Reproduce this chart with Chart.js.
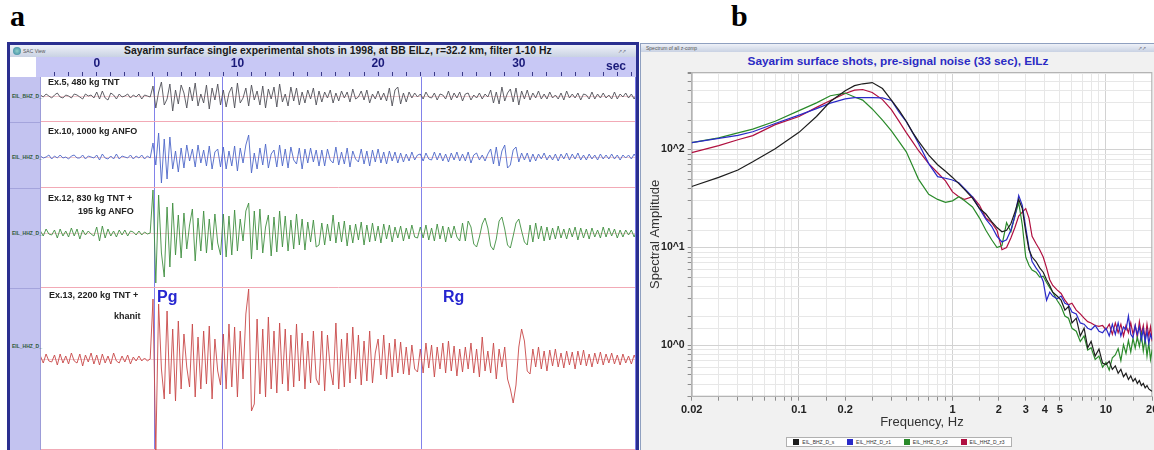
<!DOCTYPE html>
<html lang="en">
<head>
<meta charset="utf-8">
<title>Sayarim surface shots</title>
<script src="https://cdn.jsdelivr.net/npm/chart.js@4.4.1/dist/chart.umd.min.js"></script>
<style>
  html, body { margin: 0; padding: 0; }
  body {
    position: relative;
    width: 1154px;
    height: 450px;
    overflow: hidden;
    background: #ffffff;
    font-family: "Liberation Sans", Arial, sans-serif;
  }
  .abs { position: absolute; white-space: nowrap; }
  canvas { position: absolute; display: block; }
  .letter { font-family: "Liberation Serif", "Times New Roman", serif; font-weight: bold; font-size: 30px; line-height: 30px; color: #000; }
  .bar { background: linear-gradient(#eef1f8, #c9d2e3); }
  .rowLabel { font-weight: bold; font-size: 9px; line-height: 11px; color: #222; }
  .chan { font-weight: bold; font-size: 5px; line-height: 6px; color: #2f5a3a; }
  .phase { font-weight: bold; font-size: 16px; line-height: 16px; color: #2626d0; }
  .tiny { font-size: 5px; line-height: 6px; color: #555; }
  #legendBox { display: flex; justify-content: space-around; align-items: center; box-sizing: border-box; }
  #legendBox span.item { display: flex; align-items: center; font-size: 5px; color: #333; }
  #legendBox span.sw { display: inline-block; width: 6px; height: 6px; margin-right: 3px; }
</style>
</head>
<body>

<div class="abs letter" style="left:10px; top:1px;">a</div>
<div class="abs letter" style="left:731px; top:1px;">b</div>

<!-- seismogram window -->
<div class="abs" style="left:7px; top:42px; width:632px; height:420px; box-sizing:border-box; border:3px solid #2a2f8f; background:#fff;"></div>
<div class="abs bar" style="left:10px; top:45px; width:626px; height:12px;"></div>
<div class="abs" style="left:13px; top:47px; width:8px; height:8px; border-radius:4px; background:radial-gradient(#8fd0c8, #2f7f9f);"></div>
<div class="abs tiny" style="left:23px; top:48px;">SAC View</div>
<div class="abs" style="left:124px; top:45px; font-weight:bold; font-size:10.4px; line-height:12px; color:#1a1a1a;">Sayarim surface single experimental shots in 1998, at BB EILz, r=32.2 km, filter 1-10 Hz</div>
<div class="abs tiny" style="left:618px; top:48px; color:#778;">&#8599;&#8599;</div>

<div class="abs" style="left:10px; top:57px; width:26px; height:20px; background:#fff;"></div>
<div class="abs" style="left:36px; top:57px; width:600px; height:20px; background:#c8c8f5;"></div>
<canvas id="timeAxis" width="595" height="20" style="left:41px; top:57px;"></canvas>
<div class="abs" style="left:606px; top:59px; font-weight:bold; font-size:12px; line-height:14px; color:#1a1a7a;">sec</div>

<div class="abs" style="left:10px; top:77px; width:30px; height:373px; background:#c3c3f0; border-right:1px solid #9c9cd8;"></div>
<div class="abs" style="left:10px; top:122px; width:30px; height:1px; background:#a4a4dc;"></div>
<div class="abs" style="left:10px; top:188px; width:30px; height:1px; background:#a4a4dc;"></div>
<div class="abs" style="left:10px; top:288px; width:30px; height:1px; background:#a4a4dc;"></div>
<div class="abs chan" style="left:12px; top:93px;">EIL_BHZ_D_</div>
<div class="abs chan" style="left:12px; top:154px;">EIL_HHZ_D_</div>
<div class="abs chan" style="left:12px; top:230px;">EIL_HHZ_D_</div>
<div class="abs chan" style="left:12px; top:343px;">EIL_HHZ_D_</div>

<canvas id="row1" width="595" height="45" style="left:41px; top:77px;"></canvas>
<canvas id="row2" width="595" height="66" style="left:41px; top:122px;"></canvas>
<canvas id="row3" width="595" height="100" style="left:41px; top:188px;"></canvas>
<canvas id="row4" width="595" height="162" style="left:41px; top:288px;"></canvas>
<div class="abs" style="left:635px; top:77px; width:1px; height:373px; background:#7b7be8;"></div>

<div class="abs rowLabel" style="left:48px; top:77px;">Ex.5, 480 kg TNT</div>
<div class="abs rowLabel" style="left:48px; top:126px;">Ex.10, 1000 kg ANFO</div>
<div class="abs rowLabel" style="left:48px; top:193px;">Ex.12, 830 kg TNT +</div>
<div class="abs rowLabel" style="left:78px; top:206px;">195 kg ANFO</div>
<div class="abs rowLabel" style="left:49px; top:290px;">Ex.13, 2200 kg TNT +</div>
<div class="abs rowLabel" style="left:114px; top:311px;">khanit</div>
<div class="abs phase" style="left:157px; top:289px;">Pg</div>
<div class="abs phase" style="left:443px; top:289px;">Rg</div>

<!-- spectra window -->
<div class="abs" style="left:640px; top:43px; width:514px; height:407px; box-sizing:border-box; border-left:1px solid #8fa0c0; border-top:1px solid #8fa0c0; background:#f1f1f1;"></div>
<div class="abs bar" style="left:641px; top:44px; width:513px; height:8px;"></div>
<div class="abs tiny" style="left:646px; top:45px;">Spectrum of all z-comp</div>
<div class="abs tiny" style="left:1138px; top:45px; color:#778;">&#8599;&#8599;</div>
<div class="abs" style="left:700px; top:54px; width:396px; text-align:center; font-weight:bold; font-size:11.8px; line-height:15px; color:#2b2bc4;">Sayarim surface shots, pre-signal noise (33 sec), EILz</div>
<canvas id="spectra" width="530" height="398" style="left:640px; top:52px;"></canvas>
<div id="legendBox" class="abs" style="left:786px; top:437px; width:226px; height:10px; border:1px solid #b0b0b0; background:#fff;"></div>

<script>
// ---- seismograms (filter 1-10 Hz), one sample every 0.2 s from -4 s ----
const sampleStart = -4;
const sampleStep = 0.2;
const timeMin = -3.96;
const timeMax = 38.33;
const timeTickLabels = [0, 10, 20, 30];
const pickTimes = [4.07, 8.9, 23.05];   // Pg, second marker, Rg

const ex5Trace = [
  1,-1,2,0,-2, 1,3,-1,-2,1, 0,-2,2,1,-1, -3,2,0,1,-2, 4,-3,5,-2,-4, 3,1,-3,2,-1, 0,2,-2,1,-1, 2,-3,1,0,-1,
  10,-12,4,14,-9, -3,12,-15,6,-8, 11,3,-12,9,-5, 13,-10,2,-7,11, -13,8,-4,12,-9,
  6,-11,3,9,-12, 13,-7,-2,8,-10, 11,-4,5,-9,10, -12,7,-3,9,-11, 12,-6,2,-10,9, -5,8,-9,4,-7, 6,-3,8,-9,5,
  -6,4,-2,6,-7, 3,-5,5,-2,4, -6,7,-3,-1,5, -4,6,-7,2,-3, 5,-4,3,-5,8, -10,6,9,-8,3, -6,4,-2,3,-1,
  2,-3,4,-1,-2, 3,-4,2,1,-3, 5,-4,3,-2,4, -5,2,3,-4,1, -2,3,-3,2,-1,
  6,-7,4,-8,9, -5,3,7,-6,8, -9,5,-3,6,-4, 3,-2,5,-3,2,
  -3,4,-2,1,-3, 3,-4,5,-2,2, -2,3,-4,2,1, -3,4,-3,2,-2, 3,-2,1,-3,4, -3,2,-1,3,-2, 2,-3,3
];

const ex10Trace = [
  1,-1,0,2,-2, 1,-1,2,-1,0, -2,1,2,-1,-1, 2,-2,1,0,-1, 2,-3,3,-1,-2, 1,-2,3,-2,1, 0,-1,2,-2,1, -1,2,-2,1,-1,
  14,-8,24,-26,18, -22,20,-12,6,-15, 9,-11,12,-4,8, -10,12,-6,7,-9, 11,-12,5,8,-10,
  10,-12,6,-9,11, -14,9,-6,12,22, -16,4,-12,9,-8, 13,-11,3,7,-10, 12,-9,8,-11,10, -3,-7,9,-12,8, -6,9,-5,7,-9,
  7,-9,8,-3,-6, 10,-8,5,-7,9, -10,6,-2,-5,8, -7,6,-9,7,-5, 8,-6,5,-7,6, -4,5,-6,4,-5, 3,-4,5,-3,2,
  3,-4,4,-2,-3, 5,-3,4,-4,3, -5,4,-3,5,-4, 3,-4,5,-6,2, 4,-3,2,-4,3,
  8,-7,10,-9,6, 12,-11,-8,7,10, -5,4,-3,4,-5, 3,-4,3,-2,4,
  -3,2,-3,3,-4, 3,-2,4,-3,3, -2,4,-3,2,-3, 3,-2,2,-3,3, -2,2,-2,3,-2, 2,-3,2,-1,2, -2,3,-2
];

const ex12Trace = [
  2,-3,4,-1,-2, 3,-5,4,-3,2, -4,5,-3,4,-6, 3,-2,2,-1,-3, 6,-8,7,-5,4, -3,2,-4,3,-2, 3,-3,2,1,-2, 2,-2,1,-1,0,
  43,-50,38,-20,-44, 26,-34,30,-22,18, -25,20,-16,8,24, -28,15,-18,22,-20, 14,-17,19,-10,-22,
  19,-24,17,-22,23, -18,14,-8,22,30, -26,22,-17,24,-20, 6,18,-23,16,-19, 22,-14,17,-18,13, -16,19,-12,14,-17, 11,-9,13,-14,-12,
  10,-12,9,-8,18, -10,11,-9,12,-13, 8,-10,9,-7,11, -12,8,-9,10,-8, 7,-10,9,-6,8, -9,6,-5,7,-8, 5,-6,8,-4,-5,
  6,-5,8,-7,5, -8,9,-6,7,-9, 6,-5,7,-4,-8,
  10,-8,12,6,-11, -14,-4,9,15,5, -13,-17,-6,12,16, 4,-12,-15,-3,10, 14,2,-9,-12,8, -9,10,-6,7,-8,
  6,-7,5,-6,7, -5,4,-6,5,-4, 6,-7,5,-5,4, -6,5,-4,3,-5, 6,-4,5,-3,4, -5,3,-4,3,-2, 3,-4,4
];

const ex13Trace = [
  3,-4,5,-2,-3, 4,-6,5,-4,3, -5,6,-2,-4,5, -7,4,-3,6,-5, 4,-6,5,-4,3, -5,6,-2,-4,3, -3,4,-5,2,-2, 3,-2,1,-2,0,
  60,-92,55,-10,-40, 48,-35,30,-42,38, -30,25,-8,-28,35, -38,22,-30,28,-25, 33,-40,20,-12,-26,
  25,-30,35,-28,32, -38,28,-20,45,70, -52,-45,40,-35,30, -38,42,-30,28,-34, 36,-25,30,-32,24, -28,35,-22,26,-30, 18,-24,28,-20,-26,
  28,-32,24,-10,-26, 36,-30,20,-28,26, -24,32,-20,24,-26, 18,-22,28,-24,6, 20,-16,24,-20,16, -18,20,-14,17,-15, 12,-16,14,-10,-13,
  10,-14,16,-9,14, -18,12,-10,16,-14, 18,-12,13,-17,10, -13,12,-10,16,-14, 10,-18,22,-12,8, -14,16,-20,10,-8,
  12,-20,-30,-44,-26, 12,30,18,-12,-15, 10,-8,12,-10,8, -12,9,-7,10,-8,
  6,-9,8,-6,7, -10,8,-6,9,-7, 5,-8,6,-5,7, -6,5,-4,6,-5, 4,-6,5,-4,3, -5,4,-3
];

// ---- pre-signal noise spectra ----
const freqHz = [
  0.02,0.03,0.04,0.05,0.07,0.1,0.13,0.16,0.2,0.23,0.26,0.3,0.35,0.4,0.45,0.5,0.55,0.6,0.7,0.8,0.9,1.0,
  1.1,1.2,1.35,1.5,1.65,1.8,1.95,2.1,2.25,2.4,2.55,2.7,2.85,3.0,3.15,3.3,3.5,3.7,3.9,4.1,4.3,4.5,4.8,
  5.1,5.4,5.7,6.0,6.4,6.8,7.2,7.6,8.0,8.5,9.0,9.5,
  10,10.5,11,11.5,12,12.5,13,13.5,14,14.5,15,15.5,16,16.5,17,17.5,18,18.5,19,19.5,20
];

const ampBHZs = [
  42,52,62,75,102,150,218,310,400,450,470,484,420,320,250,195,150,122,88,70,60,52,
  45,39,32,25,22,18.4,16,14.5,15,17.5,23,31,25,14.5,9.5,8,7.2,6.2,5.6,4.7,4.1,3.5,3.2,
  2.9,2.3,2.5,1.7,1.9,1.25,1.5,0.95,1.1,0.78,0.92,0.66,
  0.64,0.69,0.57,0.62,0.52,0.57,0.48,0.52,0.45,0.49,0.43,0.46,0.41,0.44,0.39,0.41,0.37,0.39,0.36,0.35,0.34
];

const ampHHZz1 = [
  118,130,140,152,185,225,262,298,330,340,340,340,338,317,240,193,149,116,72,53,51,49,
  46,40,33,25,19.5,16.5,13,11.4,12,15,21,34,27,16,10,7.2,6.2,5.5,4.5,2.9,3.5,3.2,3.0,
  3.2,2.7,2.6,2.2,2.1,1.7,1.65,1.5,1.45,1.6,1.4,1.35,
  1.5,1.25,1.65,1.3,1.7,1.25,1.55,1.45,2.0,1.3,1.2,1.6,1.3,1.55,1.15,1.45,1.1,1.4,1.05,1.3,1.15
];

const ampHHZz2 = [
  118,132,148,162,195,250,300,355,378,345,320,260,200,155,120,95,68,50,35,31,29,30,
  33,30,26,20,15,12,10,10.5,18,14.5,21,28.7,17,8,6.6,5.9,5.6,5,5.1,4.4,3.9,3.5,2.9,
  2.5,2.0,1.9,1.5,1.4,1.1,1.25,0.9,0.95,0.72,0.78,0.6,
  0.67,0.56,0.75,0.8,0.93,0.7,1.02,0.83,1.12,0.86,1.18,0.94,1.22,0.98,1.3,0.88,1.18,0.78,1.07,0.72,0.91
];

const ampHHZz3 = [
  93,110,126,139,180,218,270,317,374,405,411,383,324,256,193,149,120,98,72,58,48,37,
  33,31,33,27,20,18,15,9.5,10,12.5,16,21,23,25,20,13,11,9.5,8,6.2,4.7,4.1,3.7,
  3.4,2.9,2.6,2.7,2.3,2.1,1.9,1.75,1.7,1.6,1.57,1.6,
  1.45,1.65,1.3,1.7,1.35,1.65,1.25,1.6,1.35,1.7,1.3,1.6,1.2,1.75,1.3,1.6,1.15,1.65,1.25,1.55,1.1
];

const spectraLabels = ['EIL_BHZ_D_s', 'EIL_HHZ_D_z1', 'EIL_HHZ_D_z2', 'EIL_HHZ_D_z3'];
const freqTickValues = [0.02, 0.1, 0.2, 1, 2, 3, 4, 5, 10, 20];
const ampTickValues = [1, 10, 100];
const ampTickText = ['10^0', '10^1', '10^2'];

Chart.defaults.font.family = '"Liberation Sans", Arial, sans-serif';

function sameValue(a, b) {
    return Math.abs(a - b) <= Math.abs(b) * 1e-6;
}

// zero line, phase markers and row separator behind each trace
const rowDecor = {
    id: 'rowDecor',
    beforeDatasetsDraw(chart) {
        const { ctx, chartArea, scales } = chart;
        ctx.save();
        ctx.lineWidth = 1;

        const y0 = Math.round(scales.y.getPixelForValue(0)) + 0.5;
        ctx.strokeStyle = 'rgba(225, 140, 150, 0.45)';
        ctx.beginPath();
        ctx.moveTo(chartArea.left, y0);
        ctx.lineTo(chartArea.right, y0);
        ctx.stroke();

        ctx.strokeStyle = '#8282ea';
        pickTimes.forEach(t => {
            const x = Math.round(scales.x.getPixelForValue(t)) + 0.5;
            ctx.beginPath();
            ctx.moveTo(x, chartArea.top);
            ctx.lineTo(x, chartArea.bottom);
            ctx.stroke();
        });

        ctx.strokeStyle = '#f2aab6';
        ctx.beginPath();
        ctx.moveTo(chartArea.left, chartArea.bottom - 0.5);
        ctx.lineTo(chartArea.right, chartArea.bottom - 0.5);
        ctx.stroke();
        ctx.restore();
    }
};

function makeTraceChart(canvasId, values, color, yMin, yMax) {
    return new Chart(document.getElementById(canvasId), {
        type: 'line',
        data: {
            datasets: [{
                data: values.map((v, i) => ({ x: sampleStart + i * sampleStep, y: v })),
                borderColor: color,
                borderWidth: 0.9,
                pointRadius: 0,
                tension: 0,
                clip: 0
            }]
        },
        options: {
            responsive: false,
            animation: false,
            events: [],
            layout: { padding: 0 },
            plugins: { legend: { display: false }, tooltip: { enabled: false } },
            scales: {
                x: { type: 'linear', display: false, min: timeMin, max: timeMax },
                y: { type: 'linear', display: false, min: yMin, max: yMax }
            }
        },
        plugins: [rowDecor]
    });
}

// time axis across the top of the traces
new Chart(document.getElementById('timeAxis'), {
    type: 'line',
    data: { datasets: [] },
    options: {
        responsive: false,
        animation: false,
        events: [],
        layout: { padding: 0 },
        plugins: { legend: { display: false }, tooltip: { enabled: false } },
        scales: {
            x: {
                type: 'linear',
                position: 'top',
                min: timeMin,
                max: timeMax,
                afterFit: scale => { scale.height = 19; },
                border: { display: false },
                grid: { drawOnChartArea: false, tickLength: 4, tickColor: '#3a3a8a', tickWidth: 1 },
                ticks: {
                    stepSize: 1,
                    includeBounds: false,
                    autoSkip: false,
                    maxRotation: 0,
                    padding: 1,
                    color: '#1a1a7a',
                    font: { weight: 'bold', size: 12 },
                    callback: value => (timeTickLabels.includes(Math.round(value)) && sameValue(value, Math.round(value)) ? String(Math.round(value)) : '')
                }
            },
            y: { display: false }
        }
    }
});

makeTraceChart('row1', ex5Trace, '#505058', -26, 19);
makeTraceChart('row2', ex10Trace, '#4d66c8', -31, 35);
makeTraceChart('row3', ex12Trace, '#3f8f3f', -55, 45);
makeTraceChart('row4', ex13Trace, '#c84848', -91, 71);

// white plot area with a thin frame
const plotFrame = {
    id: 'plotFrame',
    beforeDraw(chart) {
        const { ctx, chartArea } = chart;
        ctx.save();
        ctx.fillStyle = '#ffffff';
        ctx.fillRect(chartArea.left, chartArea.top, chartArea.width, chartArea.height);
        ctx.restore();
    },
    beforeDatasetsDraw(chart) {
        const { ctx, chartArea } = chart;
        ctx.save();
        ctx.strokeStyle = '#b4b4b4';
        ctx.lineWidth = 1;
        ctx.strokeRect(chartArea.left + 0.5, chartArea.top + 0.5, chartArea.width - 1, chartArea.height - 1);
        ctx.restore();
    }
};

const spectraColors = ['#1e1e1e', '#2a2ac8', '#2a8a2a', '#b01040'];
const spectraAmps = [ampBHZs, ampHHZz1, ampHHZz2, ampHHZz3];

function gridColor(context) {
    const v = context.tick ? context.tick.value : 0;
    const e = Math.log10(v);
    return Math.abs(e - Math.round(e)) < 1e-6 ? '#d2d2d2' : '#e7e7e7';
}

const spectraChart = new Chart(document.getElementById('spectra'), {
    type: 'line',
    data: {
        datasets: spectraAmps.map((amp, k) => ({
            label: spectraLabels[k],
            data: freqHz.map((f, i) => ({ x: f, y: amp[i] })),
            borderColor: spectraColors[k],
            backgroundColor: spectraColors[k],
            borderWidth: 1.2,
            pointRadius: 0,
            tension: 0
        }))
    },
    options: {
        responsive: false,
        animation: false,
        events: [],
        layout: { padding: { top: 20, right: 17.8, bottom: 17.3, left: 0 } },
        plugins: { legend: { display: false }, tooltip: { enabled: false } },
        scales: {
            x: {
                type: 'logarithmic',
                min: 0.02,
                max: 20,
                afterFit: scale => { scale.height = 36; },
                border: { color: '#b4b4b4' },
                grid: { color: gridColor, tickColor: '#8c8c8c', tickLength: 4 },
                ticks: {
                    autoSkip: false,
                    maxRotation: 0,
                    minRotation: 0,
                    padding: 3,
                    color: '#222',
                    font: { weight: 'bold', size: 11 },
                    callback: value => {
                        const hit = freqTickValues.find(v => sameValue(value, v));
                        return hit !== undefined ? String(hit) : '';
                    }
                },
                title: {
                    display: true,
                    text: 'Frequency, Hz',
                    color: '#333',
                    font: { size: 13 },
                    padding: { top: 0, bottom: 2 }
                }
            },
            y: {
                type: 'logarithmic',
                min: 0.3,
                max: 620,
                afterFit: scale => { scale.width = 51.7; },
                border: { color: '#b4b4b4' },
                grid: { color: gridColor, tickColor: '#8c8c8c', tickLength: 4 },
                ticks: {
                    autoSkip: false,
                    padding: 3,
                    color: '#222',
                    font: { weight: 'bold', size: 10.5 },
                    callback: value => {
                        const k = ampTickValues.findIndex(v => sameValue(value, v));
                        return k >= 0 ? ampTickText[k] : '';
                    }
                },
                title: {
                    display: true,
                    text: 'Spectral Amplitude',
                    color: '#333',
                    font: { size: 13 },
                    padding: { top: 8, bottom: 0 }
                }
            }
        }
    },
    plugins: [plotFrame]
});

// legend strip under the spectra
const legendBox = document.getElementById('legendBox');
spectraChart.data.datasets.forEach(ds => {
    const item = document.createElement('span');
    item.className = 'item';
    const sw = document.createElement('span');
    sw.className = 'sw';
    sw.style.background = ds.borderColor;
    item.appendChild(sw);
    item.appendChild(document.createTextNode(ds.label));
    legendBox.appendChild(item);
});
</script>
</body>
</html>
